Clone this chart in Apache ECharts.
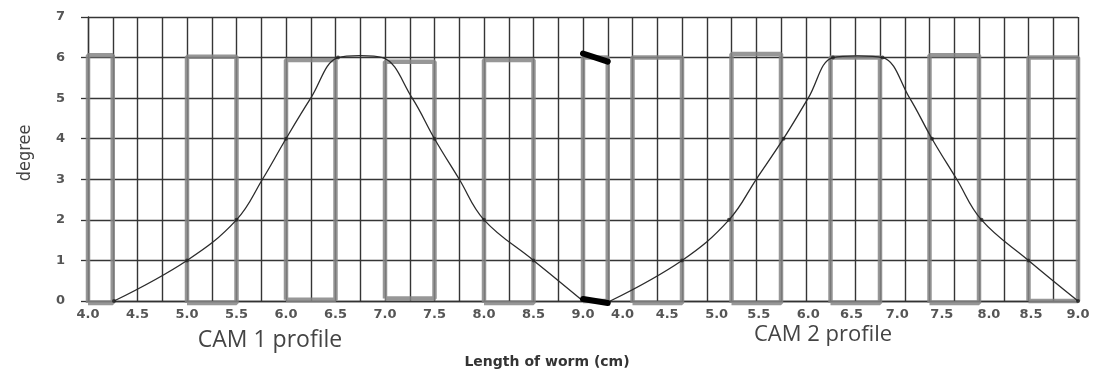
<!DOCTYPE html>
<html><head><meta charset="utf-8">
<script src="https://cdn.jsdelivr.net/npm/echarts@6/dist/echarts.min.js"></script>
<style>html,body{margin:0;padding:0;background:#fff}#c{width:1094px;height:372px}</style>
</head><body><div id="c"></div>
<script>
// x axis runs in grid columns 0..40 (each column = 0.25 cm in the CAM 1 half)
const xTickPositions = [0,2,4,6,8,10,12,14,16,18,20,21.6,23.4,25.4,27.1,29.1,30.85,32.7,34.5,36.4,38.1,40];
const xTickLabels = ['4.0','4.5','5.0','5.5','6.0','6.5','7.0','7.5','8.0','8.5','9.0',
                     '4.0','4.5','5.0','5.5','6.0','6.5','7.0','7.5','8.0','8.5','9.0'];
const yTicks = [0,1,2,3,4,5,6,7];

// square pulses
const pulseStart  = [0, 4, 8, 12, 16, 20, 22, 26, 30, 34, 38];
const pulseEnd    = [1, 6, 10, 14, 18, 21, 24, 28, 32, 36, 40];
const pulseTop    = [6.06, 6.02, 5.94, 5.9, 5.94, 6.0, 6.0, 6.09, 6.0, 6.06, 6.0];
const pulseBottom = [-0.05, -0.05, 0.03, 0.06, -0.05, 0, -0.05, -0.05, -0.05, -0.05, 0];

// black junction marks between CAM 1 and CAM 2
const junctionTop    = [[20, 6.1], [21, 5.9]];
const junctionBottom = [[20, 0.05], [21, -0.05]];

// CAM profiles
const cam1X = [1.05, 4, 6, 7.05, 8, 9, 10.1, 11, 11.9, 13.1, 14, 15, 16, 18, 20];
const cam1Y = [0, 1, 2, 3, 4, 5, 6.0, 6.05, 6.0, 5, 4, 3, 2, 1, 0];
const cam2X = [21.1, 24, 25.9, 27.0, 28.1, 29.1, 30.1, 31.1, 32.1, 33.2, 34.1, 35.1, 36.1, 38, 40];
const cam2Y = [0, 1, 2, 3, 4, 5, 6.0, 6.04, 6.0, 5, 4, 3, 2, 1, 0];
const keyX = [1.05, 4, 6, 8, 10.1, 14, 16, 18, 24, 25.9, 28.1, 30.1, 32.1, 34.1, 36.1, 38, 40];
const keyY = [0, 1, 2, 4, 6.0, 4, 2, 1, 1, 2, 4, 6.0, 6.0, 4, 2, 1, 0];

const zip = (xs, ys) => xs.map((x, i) => [x, ys[i]]);

const series = [];
pulseStart.forEach((s, i) => {
  const e = pulseEnd[i], t = pulseTop[i], b = pulseBottom[i];
  series.push({
    type: 'line', silent: true, clip: false, symbol: 'none', z: 2,
    lineStyle: { color: '#858585', width: 4.5, opacity: 0.85 },
    data: [[s, b], [s, t], [e, t], [e, b], [s, b]]
  });
});
[junctionTop, junctionBottom].forEach(d => series.push({
  type: 'line', silent: true, clip: false, symbol: 'none', z: 5,
  lineStyle: { color: '#000', width: 6, cap: 'round' }, data: d
}));
[[cam1X, cam1Y], [cam2X, cam2Y]].forEach(([xs, ys]) => series.push({
  type: 'line', silent: true, clip: false, symbol: 'none', smooth: 0.4, z: 4,
  lineStyle: { color: '#2b2b2b', width: 1.3 }, data: zip(xs, ys)
}));
series.push({
  type: 'scatter', silent: true, symbolSize: 4, z: 6,
  itemStyle: { color: '#222' }, data: zip(keyX, keyY)
});

const chart = echarts.init(document.getElementById('c'), null, { renderer: 'canvas' });
chart.setOption({
  animation: false,
  backgroundColor: '#fff',
  grid: { left: 88, right: 16, top: 17, bottom: 71, containLabel: false },
  xAxis: {
    type: 'value', min: 0, max: 40, interval: 1,
    axisLine: { show: true, lineStyle: { color: '#333', width: 1.3 } },
    axisTick: { show: false },
    splitLine: { show: true, lineStyle: { color: '#353535', width: 1.4 } },
    axisLabel: {
      customValues: xTickPositions,
      formatter: v => {
        let best = 0;
        xTickPositions.forEach((p, i) => { if (Math.abs(p - v) < Math.abs(xTickPositions[best] - v)) best = i; });
        return xTickLabels[best];
      },
      margin: 7, color: '#555', fontSize: 13, fontWeight: 'bold', fontFamily: 'DejaVu Sans'
    }
  },
  yAxis: {
    type: 'value', min: yTicks[0], max: yTicks[yTicks.length - 1], interval: 1,
    axisLine: { show: true, lineStyle: { color: '#333', width: 1.3 } },
    axisTick: { show: true, length: 7, inside: false, lineStyle: { color: '#333', width: 1.3 } },
    splitLine: { show: true, lineStyle: { color: '#353535', width: 1.4 } },
    axisLabel: { margin: 23, color: '#555', fontSize: 13, fontWeight: 'bold', fontFamily: 'DejaVu Sans' }
  },
  graphic: [
    { type: 'text', x: 25, y: 153, rotation: Math.PI / 2,
      style: { text: 'degree', fill: '#444', font: '18px "Liberation Sans Narrow", "DejaVu Sans Condensed", sans-serif', align: 'center', verticalAlign: 'middle' } },
    { type: 'text', x: 270, y: 340,
      style: { text: 'CAM 1 profile', fill: '#444', font: '23px "Open Sans", sans-serif', align: 'center', verticalAlign: 'middle' } },
    { type: 'text', x: 823, y: 335,
      style: { text: 'CAM 2 profile', fill: '#444', font: '22px "Open Sans", sans-serif', align: 'center', verticalAlign: 'middle' } },
    { type: 'text', x: 547, y: 362,
      style: { text: 'Length of worm (cm)', fill: '#333', font: 'bold 14px "DejaVu Sans", sans-serif', align: 'center', verticalAlign: 'middle' } }
  ],
  series
});
</script>
</body></html>
